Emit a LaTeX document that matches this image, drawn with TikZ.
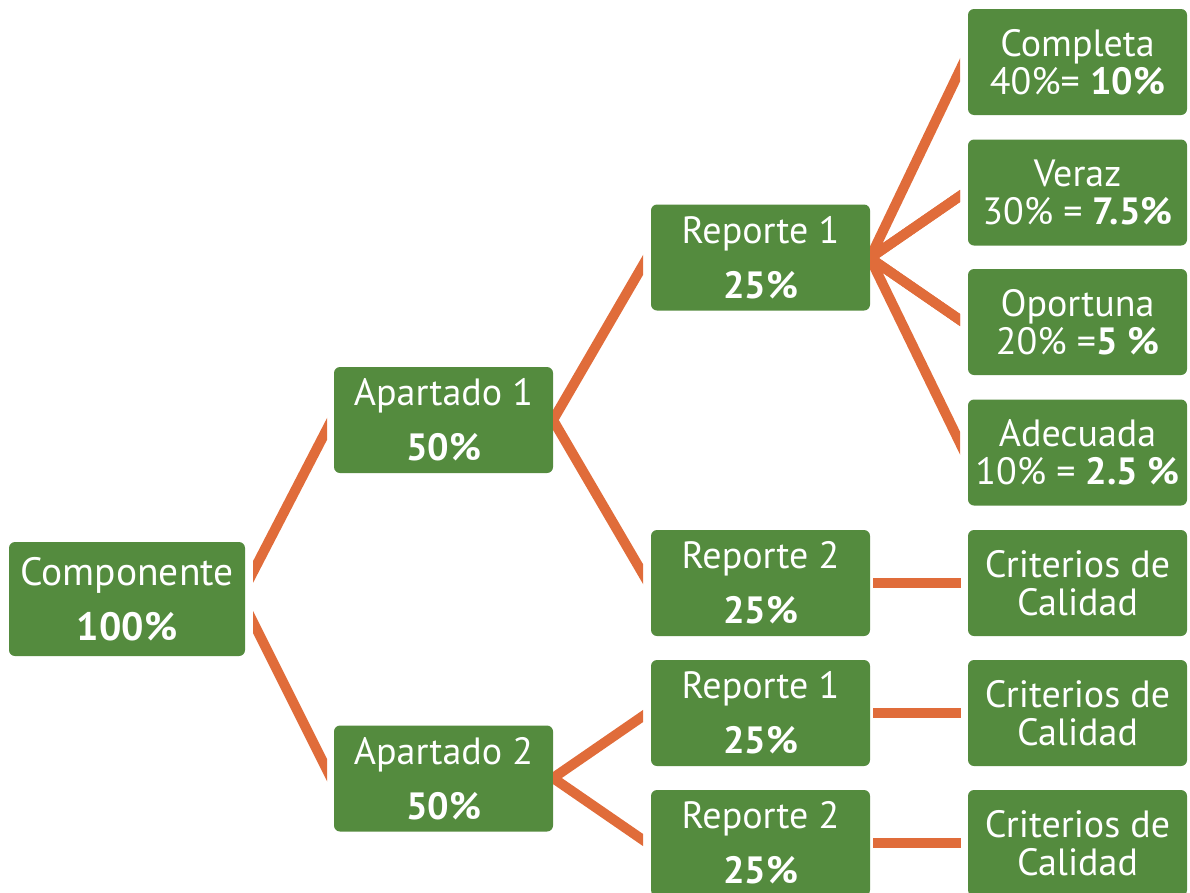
\documentclass[tikz,border=0pt]{standalone}
\usepackage{fontspec}
\setmainfont{PT Sans}
\definecolor{boxgreen}{RGB}{84,139,62}
\definecolor{linkorange}{RGB}{224,108,58}
\begin{document}
\begin{tikzpicture}[x=1pt,y=-1pt,
  box/.style={fill=boxgreen, text=white, rounded corners=6pt, minimum width=219pt,
    minimum height=106pt, inner sep=0pt, align=center, font=\fontsize{38}{55}\selectfont},
  rbox/.style={box, font=\fontsize{38}{38}\selectfont},
  link/.style={draw=linkorange, line width=10pt, line join=miter, line cap=butt}]
\useasboundingbox (0,0) rectangle (1190,892);
% nodes
\node[box, minimum width=236pt, minimum height=114pt, font=\fontsize{39.5}{55}\selectfont] (comp) at (127,599) {Componente\\\textbf{100\%}};
\node[box] (a1) at (443.5,420) {Apartado 1\\\textbf{50\%}};
\node[box] (a2) at (443.5,778.5) {Apartado 2\\\textbf{50\%}};
\node[box] (r1) at (760.5,257.5) {Reporte 1\\\textbf{25\%}};
\node[box] (r2) at (760.5,583) {Reporte 2\\\textbf{25\%}};
\node[box] (r3) at (760.5,713) {Reporte 1\\\textbf{25\%}};
\node[box] (r4) at (760.5,843) {Reporte 2\\\textbf{25\%}};
\node[rbox] (q1) at (1077.5,62) {Completa\\40\%= \textbf{10\%}};
\node[rbox] (q2) at (1077.5,192.5) {Veraz\\30\% = \textbf{7.5\%}};
\node[rbox] (q3) at (1077.5,322) {Oportuna\\20\% =\textbf{5 \%}};
\node[rbox] (q4) at (1077.5,452.5) {Adecuada\\10\% = \textbf{2.5 \%}};
\node[rbox] (k1) at (1077.5,583) {Criterios de\\Calidad};
\node[rbox] (k2) at (1077.5,713) {Criterios de\\Calidad};
\node[rbox] (k3) at (1077.5,843) {Criterios de\\Calidad};
% connector points
\coordinate (c1s) at (245,587.5);
\coordinate (c1e) at (335,413.5);
\coordinate (c2s) at (245,606);
\coordinate (c2e) at (335,786);
\coordinate (ap1) at (553,420);
\coordinate (ap1u) at (650,253);
\coordinate (ap1d) at (650,586);
\coordinate (ap2) at (553,778);
\coordinate (ap2u) at (650,711.2);
\coordinate (ap2d) at (650,844.8);
\coordinate (rp1) at (870,258);
\coordinate (rq1) at (968,53.3);
\coordinate (rq2) at (968,190.5);
\coordinate (rq3) at (968,325.5);
\coordinate (rq4) at (968,459.5);
\coordinate (h1s) at (873,583);
\coordinate (h1e) at (961,583);
\coordinate (h2s) at (873,713);
\coordinate (h2e) at (961,713);
\coordinate (h3s) at (873,843);
\coordinate (h3e) at (961,843);
% connectors
\begin{scope}
  \clip (253,0) rectangle (327,892);
  \draw[link] (c1s) -- (c1e);
  \draw[link] (c2s) -- (c2e);
\end{scope}
\begin{scope}
  \clip (553,0) rectangle (643,892);
  \draw[link] (ap1u) -- (ap1) -- (ap1d);
  \draw[link] (ap2u) -- (ap2) -- (ap2d);
\end{scope}
\begin{scope}
  \clip (870,0) rectangle (960,892);
  \draw[link] (rq1) -- (rp1) -- (rq2);
  \draw[link] (rq3) -- (rp1) -- (rq4);
  \draw[link] (rq2) -- (rp1) -- (rq3);
\end{scope}
\draw[link] (h1s) -- (h1e);
\draw[link] (h2s) -- (h2e);
\draw[link] (h3s) -- (h3e);
\end{tikzpicture}
\end{document}
